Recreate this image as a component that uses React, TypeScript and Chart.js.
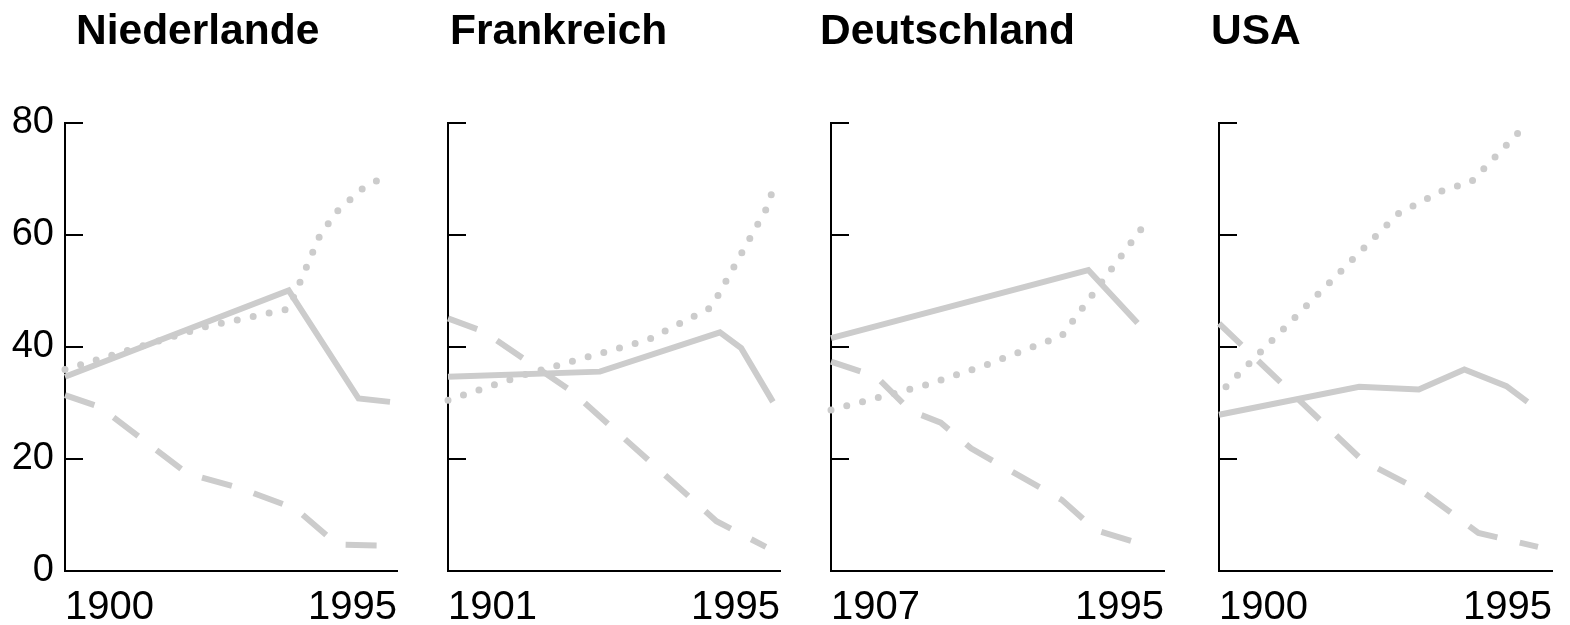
import React, { useEffect, useRef } from 'react';
import { Chart, registerables } from 'chart.js';

Chart.register(...registerables);

// ---------- data ----------
const COUNTRIES = ['Niederlande', 'Frankreich', 'Deutschland', 'USA'];
const FIRST_YEARS = [1900, 1901, 1907, 1900];
const LAST_YEAR = 1995;
const Y_MIN = 0;
const Y_MAX = 80;
const Y_STEP = 20;

// Niederlande
const NL_IND_YEARS = [1900, 1964, 1984, 1993];
const NL_IND = [34.7, 50.1, 30.8, 30.2];
const NL_AGR_YEARS = [1900, 1910, 1935, 1950, 1966, 1978, 1993];
const NL_AGR = [31.4, 29.3, 17.4, 14.8, 11.1, 4.7, 4.5];
const NL_SRV_YEARS = [1900, 1940, 1964, 1973, 1978, 1985, 1993];
const NL_SRV = [36.0, 43.6, 46.8, 60.0, 64.3, 68.2, 71.0];

// Frankreich
const FR_IND_YEARS = [1901, 1944, 1978, 1984, 1993];
const FR_IND = [34.7, 35.6, 42.6, 39.8, 30.2];
const FR_AGR_YEARS = [1901, 1911, 1936, 1977, 1991];
const FR_AGR = [45.1, 42.8, 32.1, 8.9, 4.3];
const FR_SRV_YEARS = [1901, 1923, 1950, 1958, 1975, 1977, 1991, 1994];
const FR_SRV = [30.5, 35.1, 39.9, 41.4, 46.9, 48.7, 64.5, 69.8];

// Deutschland
const DE_IND_YEARS = [1907, 1975, 1988];
const DE_IND = [41.6, 53.75, 44.3];
const DE_AGR_YEARS = [1907, 1919, 1928, 1936, 1944, 1968, 1977, 1990];
const DE_AGR = [37.4, 34.7, 28.6, 26.5, 21.9, 12.7, 7.3, 4.6];
const DE_SRV_YEARS = [1907, 1932, 1948, 1968, 1991];
const DE_SRV = [28.75, 33.2, 36.8, 42.0, 62.9];

// USA
const US_IND_YEARS = [1900, 1940, 1957, 1970, 1982, 1988];
const US_IND = [27.9, 32.9, 32.4, 36.0, 33.0, 30.2];
const US_AGR_YEARS = [1900, 1941, 1958, 1974, 1991];
const US_AGR = [44.2, 19.7, 14.2, 6.8, 4.3];
const US_SRV_YEARS = [1902, 1951, 1964, 1972, 1988];
const US_SRV = [32.9, 63.75, 68.0, 69.5, 80.0];

const SERIES = [
  { ind: [NL_IND_YEARS, NL_IND], agr: [NL_AGR_YEARS, NL_AGR], srv: [NL_SRV_YEARS, NL_SRV] },
  { ind: [FR_IND_YEARS, FR_IND], agr: [FR_AGR_YEARS, FR_AGR], srv: [FR_SRV_YEARS, FR_SRV] },
  { ind: [DE_IND_YEARS, DE_IND], agr: [DE_AGR_YEARS, DE_AGR], srv: [DE_SRV_YEARS, DE_SRV] },
  { ind: [US_IND_YEARS, US_IND], agr: [US_AGR_YEARS, US_AGR], srv: [US_SRV_YEARS, US_SRV] },
];

// ---------- layout / style ----------
const FONT = '"Liberation Sans", Arial, Helvetica, sans-serif';
const GRAY = '#cccccc';
const CANVAS_H = 625;
const PANELS = [
  { left: 0, width: 415, axisW: 65, padRight: 18, titleX: 76 },
  { left: 415, width: 385, axisW: 33, padRight: 20, titleX: 35 },
  { left: 800, width: 385, axisW: 31, padRight: 21, titleX: 20 },
  { left: 1185, width: 385, axisW: 34, padRight: 18, titleX: 26 },
];

const zip = (xs: number[], ys: number[]) => xs.map((x, i) => ({ x, y: ys[i] }));

const titlePlugin = {
  id: 'panelTitle',
  afterDraw(chart: any, _args: any, opts: any) {
    const ctx = chart.ctx;
    ctx.save();
    ctx.font = `bold 42.5px ${FONT}`;
    ctx.fillStyle = '#000';
    ctx.textAlign = 'left';
    ctx.textBaseline = 'alphabetic';
    ctx.fillText(opts.text, opts.x, opts.y);
    ctx.restore();
  },
};

function Panel({ index }: { index: number }) {
  const ref = useRef<HTMLCanvasElement | null>(null);
  const p = PANELS[index];
  useEffect(() => {
    if (!ref.current) return;
    const s = SERIES[index];
    const first = FIRST_YEARS[index];
    const showY = index === 0;
    const chart = new Chart(ref.current, {
      type: 'line',
      data: {
        datasets: [
          {
            label: 'Industrie',
            data: zip(s.ind[0], s.ind[1]),
            borderColor: GRAY,
            borderWidth: 6,
            pointRadius: 0,
            tension: 0,
            clip: false,
          },
          {
            label: 'Landwirtschaft',
            data: zip(s.agr[0], s.agr[1]),
            borderColor: GRAY,
            borderWidth: 6,
            borderDash: [31, 23],
            borderCapStyle: 'butt',
            pointRadius: 0,
            tension: 0,
            clip: false,
          },
          {
            label: 'Dienstleistungen',
            data: zip(s.srv[0], s.srv[1]),
            borderColor: GRAY,
            borderWidth: 7,
            borderDash: [0, 16.3],
            borderCapStyle: 'round',
            pointRadius: 0,
            tension: 0,
            clip: false,
          },
        ],
      } as any,
      options: {
        responsive: false,
        animation: false,
        events: [],
        layout: { padding: { left: 0, right: p.padRight, top: 123, bottom: 0 } },
        plugins: {
          legend: { display: false },
          tooltip: { enabled: false },
          title: { display: false },
          panelTitle: { text: COUNTRIES[index], x: p.titleX, y: 44 },
        } as any,
        scales: {
          x: {
            type: 'linear',
            min: first,
            max: LAST_YEAR,
            afterBuildTicks: (sc: any) => {
              sc.ticks = [{ value: sc.min }, { value: sc.max }];
            },
            afterFit: (sc: any) => {
              sc.height = CANVAS_H - 571;
            },
            ticks: {
              autoSkip: false,
              maxRotation: 0,
              align: 'inner',
              padding: 13,
              color: '#000',
              font: { family: FONT, size: 40 },
              callback: (v: any) => String(v),
            },
            grid: { display: false, drawTicks: false },
            border: { display: true, color: '#000', width: 2 },
          },
          y: {
            min: Y_MIN,
            max: Y_MAX,
            afterFit: (sc: any) => {
              sc.width = p.axisW;
            },
            ticks: {
              stepSize: Y_STEP,
              padding: 29,
              color: '#000',
              font: { family: FONT, size: 38 },
              callback: (v: any) => (showY ? String(v) : ''),
            },
            grid: {
              display: true,
              drawOnChartArea: false,
              drawTicks: true,
              tickLength: -18,
              color: '#000',
              lineWidth: 2,
            },
            border: { display: true, color: '#000', width: 2 },
          },
        } as any,
      },
      plugins: [titlePlugin],
    });
    return () => chart.destroy();
  }, [index]);
  return (
    <canvas
      ref={ref}
      width={p.width}
      height={CANVAS_H}
      style={{ position: 'absolute', left: p.left, top: 0, width: p.width, height: CANVAS_H, display: 'block' }}
    />
  );
}

export default function App() {
  return (
    <div style={{ position: 'absolute', left: 0, top: 0, width: 1570, height: CANVAS_H, background: '#fff', overflow: 'hidden' }}>
      {COUNTRIES.map((_, i) => (
        <Panel key={i} index={i} />
      ))}
    </div>
  );
}
